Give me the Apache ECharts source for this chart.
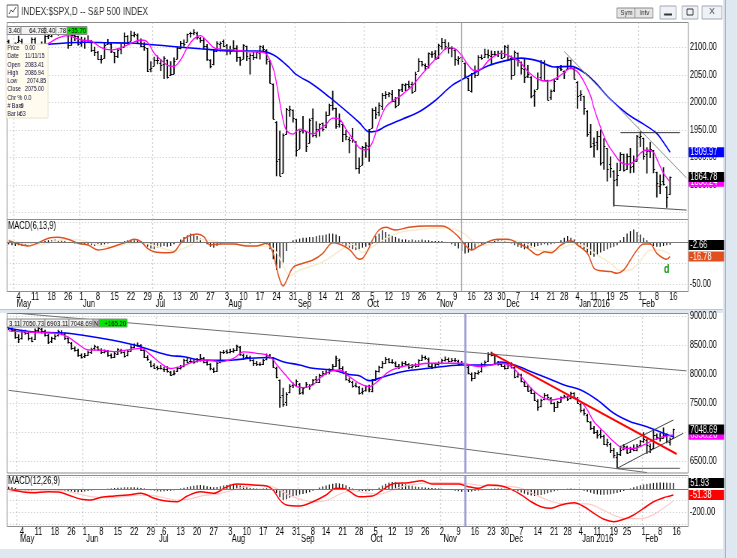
<!DOCTYPE html>
<html><head><meta charset="utf-8">
<script src="https://cdn.jsdelivr.net/npm/echarts@6/dist/echarts.min.js"></script>
<style>html,body{margin:0;padding:0;background:#fff;overflow:hidden;width:737px;height:558px}
#c{width:982.67px;height:558px;transform:scaleX(0.75);transform-origin:0 0}</style>
</head><body><div id="c"></div>
<script>
// ---------- calendar ----------
const holidays = ['2015-05-25','2015-07-03','2015-09-07','2015-11-26','2015-12-25','2016-01-01','2016-01-18','2016-02-15'];
function tradingDays(a, b) {
  const out = []; let t = Date.parse(a + 'T00:00:00Z'); const e = Date.parse(b + 'T00:00:00Z');
  while (t <= e) { const d = new Date(t); const wd = d.getUTCDay(); const s = d.toISOString().slice(0, 10);
    if (wd > 0 && wd < 6 && holidays.indexOf(s) < 0) out.push(s); t += 86400000; }
  return out;
}
const datesTop = tradingDays('2015-04-29', '2016-02-22');
const datesBot = tradingDays('2015-04-28', '2016-02-19');
const lastDayLabel = '2016-02-16';
const cursorDate = '2015-11-11';

// ---------- S&P 500 daily [open, high, low, close] from 2015-04-29 ----------
const spxOHLC = [
[2112.5,2113.6,2097.4,2106.9],[2105.5,2105.5,2077.6,2085.5],[2087.4,2108.4,2087.4,2108.3],[2110.2,2120.9,2110.2,2114.5],[2112.6,2115.2,2088.5,2089.5],
[2091.3,2098.4,2067.9,2080.2],[2079.9,2092.9,2074.9,2088.0],[2092.1,2117.7,2092.1,2116.1],[2115.6,2117.7,2104.6,2105.3],[2102.9,2105.1,2085.6,2099.1],
[2099.6,2110.2,2096.0,2098.5],[2100.4,2121.5,2100.4,2121.1],[2122.1,2123.9,2116.8,2122.7],[2121.3,2131.8,2120.0,2129.2],[2129.5,2133.0,2124.5,2127.8],
[2127.8,2134.7,2122.6,2125.9],[2125.6,2133.6,2124.5,2130.8],[2130.4,2132.2,2126.1,2126.1],[2125.3,2125.3,2099.2,2104.2],[2105.1,2126.2,2105.1,2123.5],
[2122.3,2122.3,2112.9,2120.8],[2120.7,2120.7,2104.9,2107.4],[2108.6,2119.2,2102.5,2111.7],[2110.4,2117.6,2099.1,2109.6],[2110.6,2121.9,2109.6,2114.1],
[2112.4,2112.9,2093.2,2095.8],[2095.1,2100.9,2085.7,2092.8],[2092.3,2093.0,2079.1,2079.3],[2079.1,2085.6,2072.1,2080.2],[2081.1,2108.5,2081.1,2105.2],
[2106.2,2115.0,2106.2,2108.9],[2107.4,2107.4,2091.3,2094.1],[2091.3,2091.3,2072.5,2084.4],[2084.3,2097.4,2082.1,2096.3],[2097.4,2106.8,2088.9,2100.4],
[2101.6,2126.7,2101.6,2121.2],[2121.1,2121.6,2109.5,2110.0],[2112.5,2129.9,2112.5,2122.9],[2123.2,2128.0,2119.9,2124.2],[2123.7,2125.1,2108.6,2108.6],
[2109.1,2116.0,2101.8,2102.3],[2102.6,2108.9,2095.4,2101.5],[2098.6,2098.6,2056.6,2057.6],[2061.2,2074.3,2056.3,2063.1],[2067.0,2082.8,2067.0,2077.4],
[2078.0,2085.1,2071.0,2076.8],[2073.0,2078.6,2058.4,2068.8],[2069.5,2083.7,2044.0,2081.3],[2077.7,2077.7,2044.7,2046.7],[2049.7,2074.3,2049.7,2051.3],
[2052.7,2081.3,2052.7,2076.6],[2080.0,2100.7,2080.0,2099.6],[2099.7,2111.4,2098.2,2108.9],[2109.0,2114.1,2102.5,2107.4],[2110.6,2124.4,2110.6,2124.3],
[2126.8,2128.1,2119.5,2126.6],[2126.9,2132.8,2123.7,2128.3],[2126.0,2128.0,2115.7,2119.2],[2118.2,2118.5,2110.0,2114.2],[2114.2,2116.9,2098.6,2102.2],
[2102.2,2106.0,2077.1,2079.7],[2078.2,2078.2,2063.5,2067.6],[2070.8,2095.6,2069.1,2093.3],[2094.1,2110.6,2094.1,2108.6],[2106.8,2110.5,2094.1,2108.6],
[2111.6,2114.2,2102.1,2103.8],[2104.5,2105.7,2087.3,2098.0],[2097.7,2102.5,2088.6,2093.3],[2095.3,2112.7,2095.3,2099.8],[2100.0,2103.3,2075.5,2083.6],
[2082.6,2082.6,2067.9,2077.6],[2080.1,2105.4,2080.1,2104.2],[2102.7,2102.7,2076.5,2084.1],[2081.1,2089.1,2052.1,2086.1],[2086.2,2092.9,2078.3,2083.4],
[2083.2,2092.5,2080.6,2091.5],[2089.7,2102.9,2079.3,2102.4],[2101.1,2103.5,2094.1,2096.9],[2095.7,2096.2,2070.5,2079.6],[2076.6,2076.6,2035.7,2035.7],
[2034.1,2034.1,1970.9,1970.9],[1965.2,1965.2,1867.0,1893.2],[1898.1,1948.0,1867.1,1867.6],[1872.8,1943.1,1872.8,1940.5],[1942.8,1989.6,1942.8,1987.7],
[1986.1,1993.5,1975.2,1988.9],[1986.7,1986.7,1965.0,1972.2],[1970.1,1970.1,1903.1,1913.9],[1916.5,1948.9,1916.5,1948.9],[1950.8,1975.0,1944.7,1951.1],
[1947.8,1947.8,1911.2,1921.2],[1927.3,1970.4,1927.3,1969.4],[1971.5,1988.6,1937.9,1942.0],[1941.6,1965.3,1937.2,1952.3],[1951.5,1961.1,1939.2,1961.1],
[1963.1,1963.1,1948.3,1953.0],[1955.1,1983.2,1954.3,1978.1],[1978.0,1997.3,1977.9,1995.3],[1995.3,2020.9,1986.7,1990.2],[1989.7,1989.7,1953.5,1958.0],
[1960.8,1979.6,1955.8,1967.0],[1961.4,1961.4,1929.2,1942.7],[1943.2,1949.5,1932.6,1938.8],[1934.8,1937.2,1908.9,1932.2],[1935.9,1952.9,1928.0,1931.3],
[1929.2,1929.2,1879.2,1881.8],[1881.9,1899.5,1871.9,1884.1],[1887.1,1920.5,1887.1,1920.0],[1919.7,1927.2,1900.7,1923.8],[1921.8,1951.4,1893.7,1951.4],
[1954.3,1989.2,1954.3,1987.1],[1986.6,1991.6,1971.3,1979.9],[1982.3,1999.3,1976.4,1995.8],[1994.0,2016.5,1987.5,2013.4],[2013.7,2020.1,2007.6,2014.9],
[2015.7,2018.7,2010.6,2017.5],[2015.0,2022.3,2001.8,2003.7],[2003.7,2009.6,1990.7,1994.2],[1996.5,2024.2,1996.5,2023.9],[2024.4,2033.5,2020.5,2033.1],
[2031.7,2034.5,2022.3,2033.7],[2033.1,2039.1,2026.6,2030.8],[2033.5,2037.0,2017.2,2018.9],[2021.9,2055.2,2021.9,2052.5],[2058.2,2079.7,2058.2,2075.2],
[2075.1,2075.1,2066.5,2071.2],[2068.8,2070.4,2058.8,2065.9],[2066.5,2090.4,2063.1,2090.4],[2088.4,2092.5,2082.6,2089.4],[2090.0,2094.3,2079.3,2079.4],
[2080.8,2106.2,2080.8,2104.1],[2102.6,2116.5,2097.5,2109.8],[2110.6,2114.6,2096.9,2102.3],[2101.7,2108.8,2090.4,2099.9],[2098.6,2101.9,2083.7,2099.2],
[2096.6,2096.6,2068.2,2078.6],[2077.2,2083.7,2069.9,2081.7],[2083.4,2086.9,2074.9,2075.0],[2072.3,2072.3,2045.7,2046.0],[2044.6,2044.6,2022.0,2023.0],
[2022.1,2053.2,2019.4,2053.2],[2053.7,2066.7,2045.9,2050.4],[2051.0,2085.3,2051.0,2083.6],[2083.7,2086.7,2078.8,2081.2],[2082.8,2097.1,2082.8,2089.2],
[2089.4,2095.6,2081.4,2086.6],[2084.4,2094.1,2070.3,2089.1],[2089.3,2093.0,2086.3,2088.9],[2088.8,2093.3,2084.1,2090.1],[2090.9,2093.8,2080.4,2080.4],
[2082.9,2103.4,2082.9,2102.6],[2101.7,2104.3,2077.1,2079.5],[2080.7,2085.0,2042.4,2049.6],[2051.2,2093.8,2051.2,2091.7],[2090.4,2090.4,2066.8,2077.1],
[2073.4,2073.9,2052.3,2063.6],[2061.2,2080.3,2036.5,2047.6],[2047.9,2067.7,2045.7,2052.2],[2047.3,2047.3,2008.8,2012.4],[2013.4,2022.9,1993.3,2021.9],
[2025.6,2053.9,2025.6,2043.4],[2046.5,2076.7,2042.4,2073.1],[2073.8,2076.4,2041.7,2041.9],[2040.8,2040.8,2005.3,2005.6],[2010.3,2022.9,2005.9,2021.2],
[2023.2,2042.7,2020.5,2039.0],[2042.2,2064.7,2042.2,2064.3],[2063.5,2067.4,2058.7,2061.0],[2057.8,2057.8,2044.2,2056.5],[2060.5,2081.6,2060.5,2078.4],
[2077.3,2077.3,2061.9,2063.4],[2060.6,2062.5,2043.6,2043.9],[2038.2,2038.2,1989.7,2012.7],[2013.8,2021.9,2004.2,2016.7],[2011.7,2011.7,1979.1,1990.3],
[1985.3,1985.3,1938.8,1943.1],[1946.0,1960.4,1918.5,1922.0],[1926.1,1935.7,1901.1,1923.7],[1927.8,1947.4,1914.4,1938.7],[1940.3,1950.3,1886.5,1890.3],
[1891.7,1934.5,1878.9,1921.8],[1916.7,1916.7,1857.8,1880.3],[1888.7,1901.4,1864.6,1881.3],[1876.2,1876.2,1812.3,1859.3],[1861.5,1889.9,1848.9,1869.0],
[1877.4,1908.9,1877.4,1906.9],[1906.3,1906.3,1875.9,1877.1],[1878.8,1906.7,1878.8,1903.6],[1902.5,1916.8,1872.7,1883.0],[1885.2,1902.9,1873.7,1893.4],
[1894.0,1940.2,1894.0,1940.2],[1936.9,1947.2,1920.3,1939.4],[1935.3,1935.3,1897.3,1903.0],[1907.1,1918.0,1872.2,1912.5],[1911.7,1927.4,1900.5,1915.5],
[1913.1,1913.1,1872.7,1880.1],[1873.3,1873.3,1828.5,1853.4],[1848.5,1868.3,1834.9,1852.2],[1857.1,1881.6,1850.3,1851.9],[1847.0,1847.0,1810.1,1829.1],
[1833.4,1864.78,1833.4,1864.78]
];
// moving averages: [bar index, value]
const spxMaFast = [[0,2098],[3,2100],[6,2097],[9,2103],[12,2108],[15,2118],[18,2122],[20,2118],[22,2114],[25,2112],[28,2100],[31,2096],[34,2100],[37,2108],[40,2114],[42,2110],[44,2090],[46,2078],[48,2068],[50,2066],[52,2078],[54,2100],[56,2116],[58,2122],[60,2112],[62,2100],[64,2097],[68,2096],[72,2093],[76,2092],[78,2088],[80,2062],[81,2035],[82,2000],[83,1968],[84,1950],[86,1943],[88,1952],[90,1948],[92,1943],[94,1951],[96,1961],[98,1972],[100,1970],[102,1952],[104,1935],[106,1918],[108,1914],[110,1928],[112,1965],[114,1992],[116,2003],[118,2010],[120,2020],[122,2030],[124,2045],[127,2066],[130,2085],[133,2100],[135,2098],[137,2086],[139,2068],[141,2058],[143,2062],[145,2076],[147,2085],[149,2090],[151,2086],[153,2080],[155,2071],[157,2057],[160,2043],[163,2039],[166,2046],[169,2060],[170,2063],[172,2056],[174,2038],[176,2012],[177,1990],[179,1955],[181,1926],[183,1908],[185,1892],[187,1888],[189,1892],[191,1908],[193,1914],[195,1910],[196,1898],[198,1872],[200,1856.24]];
const spxMaSlow = [[0,2098],[6,2103],[12,2106],[18,2109],[23,2110],[30,2109],[38,2108],[48,2103],[58,2098],[68,2094],[75,2094],[78,2092],[80,2087],[82,2079],[85,2063],[87,2051],[92,2033],[97,2010],[102,1985],[106,1964],[109,1947],[111,1948],[114,1957],[119,1970],[124,1983],[129,2004],[134,2031],[139,2048],[145,2067],[150,2076],[155,2081],[160,2076],[165,2065],[170,2066],[174,2055],[177,2039],[182,2006],[187,1980],[192,1961],[196,1944],[198,1928],[200,1909.97]];
// MACD(6,13,9)
const spxMacd = [[0,2.4],[3,-1.6],[6,-4],[9,0],[12,5.3],[15,6.5],[18,4.1],[21,-0.7],[24,-2.8],[27,-8.8],[30,-6.8],[33,-2.8],[36,1.2],[38,4.1],[40,1.2],[42,-6.8],[44,-10.9],[48,-12.1],[50,-10.9],[52,-0.7],[54,7.3],[57,10.5],[59,7.3],[61,-2.8],[64,-1.6],[68,-1.6],[72,-4],[75,-4],[78,-0.7],[80,-12.8],[81,-30],[82,-45],[83,-52.4],[84,-46],[86,-30],[89,-25],[92,-21],[95,-12.8],[98,0],[100,-1.6],[103,-8],[106,-20],[107,-19],[109,-6],[110,3.3],[112,15.4],[114,18.6],[117,15.4],[121,18.6],[126,20.2],[131,20.2],[133,17.4],[136,7.3],[138,-2.8],[140,-8.8],[142,-4.8],[145,1.2],[148,4.1],[151,4.1],[154,-0.7],[157,-6.8],[160,-15],[162,-10.9],[164,-12.1],[167,-2.8],[170,2.4],[172,-2.8],[175,-12.8],[177,-31],[179,-34],[182,-35],[184,-37],[186,-33],[188,-21],[190,-8.8],[192,-1.6],[194,-1.6],[196,-12.8],[199,-20],[200,-16.78]];
const spxSignal = [[0,4],[5,-1],[10,-2],[15,3],[20,4],[25,0],[30,-5],[35,-2],[40,0],[45,-5],[50,-10],[55,-3],[58,4],[62,2],[66,-1],[70,-2],[75,-4],[79,-5],[81,-12],[83,-28],[85,-40],[88,-33],[92,-28],[96,-21],[100,-10],[104,-2],[107,-12],[110,-5],[114,5],[118,12],[122,15],[127,17],[132,18],[135,16],[138,10],[141,0],[144,-3],[148,1],[152,3],[156,0],[160,-9],[164,-10],[167,-7],[171,-2],[174,-4],[178,-15],[182,-25],[185,-34],[188,-33],[191,-22],[194,-9],[197,-9],[200,-14.12]];
const spxHist = [-2,-3,-4,-3,-4,-3,-2,-1, 0,1,1,2, 3,3,4,3,3,2, 1,0,-1,-1,-2, -2,-3,-3,-4,-3,-3,-2, -1,0,0,1,1, 2,3,4,3,3,2,
 -2,-5,-7,-8,-6,-5,-4,-5,-4,-2, 1,4,7,9,11,10,8,5, 1,-2,-5,-6,-4, -2,-1,0,0,-1,-1,0,1,0,-1,0,0,1,0, -2,-8,-20,-33,-31,-24,-10,1,
 3,4,5,6,6,7,7,8,9,9,10,11,11,10,8, -1,-4,-6,-8,-9,-8,-6,-5,-3,-1, 8,11,15,13,10,8,7, 5,4,4,3,4,3,3,4,3,3,2,2,2, 2,1,0,
 -2,-4,-7,-10,-13,-12,-9,-6,-3, -2,-1,0, 1,2,3,3,2,1, -1,-3,-5,-6,-8,-7,-6,-5,-4,-3, -2,-3,-2,-1,0, 3,6,8,6,4,
 -2,-5,-8,-12,-15,-17,-15,-12,-10,-8,-6,-5,-3, 3,7,11,14,16,13,10,6,3, -2,-4,-5,-5,-4,-3,-2.66];
const spxTrend = [[[168,2093],[205,1863]], [[185,1945.5],[203,1945.5]], [[183,1813.3],[205,1804.7]]];

// ---------- second index daily [open, high, low, close] from 2015-04-28 ----------
const tranOHLC = [
[8820,8840,8770,8790],[8785,8800,8740,8760],[8755,8770,8620,8640],[8650,8680,8550,8600],[8620,8760,8610,8740],[8735,8760,8690,8720],[8715,8730,8590,8620],[8620,8640,8560,8580],
[8600,8780,8600,8760],[8765,8810,8740,8790],[8780,8790,8710,8740],[8745,8760,8660,8680],[8670,8690,8530,8560],[8575,8640,8550,8620],[8625,8680,8600,8660],[8670,8760,8660,8740],
[8735,8750,8680,8700],[8700,8710,8600,8620],[8620,8640,8540,8560],[8540,8550,8430,8450],[8455,8470,8400,8420],[8420,8430,8310,8330],[8335,8350,8280,8300],[8310,8360,8290,8340],
[8340,8400,8330,8380],[8380,8450,8360,8440],[8445,8500,8420,8480],[8470,8480,8410,8430],[8425,8440,8360,8380],[8385,8420,8370,8400],[8400,8410,8310,8330],[8330,8350,8280,8300],
[8300,8380,8290,8360],[8350,8440,8340,8430],[8420,8430,8360,8380],[8380,8390,8300,8320],[8330,8410,8320,8400],[8410,8490,8400,8470],[8475,8520,8460,8500],[8500,8540,8480,8510],
[8505,8510,8410,8420],[8420,8430,8290,8300],[8300,8320,8240,8260],[8220,8230,8130,8150],[8160,8180,8100,8110],[8120,8140,8080,8100],[8105,8150,8090,8110],[8090,8120,8050,8090],
[8095,8130,8040,8060],[8040,8050,7980,7990],[8000,8060,7990,8030],[8060,8120,8050,8100],[8110,8150,8090,8130],[8140,8260,8130,8250],[8245,8270,8200,8220],[8230,8260,8200,8230],
[8235,8250,8190,8220],[8225,8270,8210,8240],[8240,8340,8230,8280],[8275,8290,8200,8220],[8215,8230,8160,8180],[8170,8180,8080,8100],[8095,8110,8030,8050],[8060,8210,8050,8200],
[8210,8390,8200,8380],[8380,8410,8360,8390],[8395,8420,8360,8380],[8385,8430,8370,8400],[8400,8440,8380,8420],[8425,8500,8410,8480],[8470,8480,8330,8350],[8340,8350,8260,8280],
[8290,8330,8280,8300],[8290,8310,8230,8250],[8240,8250,8150,8200],[8200,8220,8150,8170],[8170,8200,8150,8180],[8185,8260,8170,8250],[8255,8350,8250,8330],[8320,8340,8280,8300],
[8280,8290,8120,8130],[8110,8120,7940,7950],[7900,7900,7430,7600],[7640,7760,7450,7480],[7520,7680,7460,7660],[7700,7820,7680,7800],[7810,7850,7770,7830],[7820,7900,7800,7880],
[7830,7840,7660,7680],[7690,7770,7660,7760],[7780,7860,7770,7830],[7800,7820,7740,7790],[7830,7910,7820,7900],[7920,7960,7860,7870],[7870,8000,7860,7990],[7990,8050,7970,8030],
[8030,8060,8000,8040],[8040,8090,8010,8080],[8085,8170,8070,8150],[8150,8310,8140,8280],[8250,8260,8090,8100],[8110,8130,8040,8060],[8040,8050,7900,7920],[7910,7930,7860,7880],
[7870,7880,7780,7800],[7810,7850,7780,7800],[7780,7790,7660,7680],[7690,7760,7660,7720],[7730,7800,7710,7790],[7800,7810,7700,7740],[7720,7910,7700,7900],[7910,8060,7900,8050],
[8050,8140,8040,8120],[8130,8220,8110,8200],[8200,8290,8190,8260],[8260,8270,8200,8220],[8220,8250,8190,8210],[8200,8210,8130,8150],[8150,8170,8100,8130],[8140,8210,8130,8200],
[8200,8220,8160,8180],[8175,8180,8100,8120],[8120,8170,8110,8150],[8155,8180,8120,8140],[8150,8250,8140,8240],[8250,8330,8240,8300],[8300,8310,8260,8280],[8270,8280,8130,8150],
[8150,8170,8100,8120],[8130,8190,8120,8170],[8170,8210,8160,8190],[8190,8260,8180,8240],[8240,8300,8230,8270],[8270,8280,8210,8230],[8230,8270,8220,8250],[8250,8270,8220,8240],
[8230,8240,8160,8180],[8180,8220,8170,8200],[8200,8210,8130,8140],[8130,8140,8010,8020],[8010,8020,7890,7930],[7940,8030,7930,8020],[8025,8060,8000,8040],[8050,8190,8040,8180],
[8180,8230,8160,8220],[8230,8370,8220,8350],[8350,8380,8320,8340],[8330,8340,8190,8200],[8200,8220,8160,8170],[8170,8180,8140,8150],[8150,8160,8090,8100],[8110,8200,8100,8190],
[8190,8200,8110,8120],[8120,8130,7940,7960],[7970,8020,7950,8000],[7990,8000,7870,7880],[7870,7880,7790,7800],[7800,7810,7710,7720],[7730,7760,7670,7680],[7670,7680,7550,7560],
[7540,7560,7380,7430],[7450,7570,7440,7560],[7570,7670,7560,7650],[7640,7650,7580,7600],[7590,7600,7490,7500],[7500,7510,7360,7430],[7440,7530,7430,7520],[7530,7610,7520,7600],
[7600,7640,7590,7620],[7610,7620,7550,7580],[7590,7690,7580,7680],[7670,7680,7590,7600],[7590,7600,7500,7510],[7480,7490,7350,7390],[7390,7400,7300,7330],[7300,7310,7180,7200],
[7170,7180,7050,7080],[7080,7100,6980,7000],[7010,7030,6900,6960],[6970,7040,6900,6930],[6940,6950,6790,6800],[6790,6880,6760,6840],[6800,6810,6650,6700],[6700,6720,6560,6600],
[6580,6650,6390,6620],[6630,6760,6600,6700],[6720,6790,6700,6760],[6750,6760,6640,6650],[6660,6740,6650,6720],[6720,6780,6680,6700],[6700,6790,6680,6760],[6780,6860,6760,6850],
[6850,6990,6830,6880],[6870,6880,6640,6780],[6770,6800,6650,6720],[6730,7040,6720,6960],[6950,6970,6880,6920],[6900,6980,6850,6900],[6910,7075,6900,6960],[6950,6970,6820,6850],
[6840,6900,6780,6883.49],[6903.11,7050.73,6903.11,7048.69]
];
const tranMaFast = [[0,8750],[5,8730],[10,8717],[15,8700],[18,8640],[21,8520],[24,8420],[28,8415],[32,8390],[36,8420],[40,8448],[43,8330],[46,8190],[49,8100],[52,8131],[56,8217],[60,8246],[64,8217],[68,8276],[71,8385],[75,8362],[78,8333],[80,8250],[81,8170],[84,7970],[87,7790],[89,7770],[92,7815],[94,7931],[97,8045],[100,8074],[103,7960],[106,7845],[109,7786],[112,7900],[115,8045],[119,8131],[123,8160],[127,8190],[133,8190],[137,8190],[142,8131],[146,8160],[149,8190],[152,8131],[155,7959],[158,7758],[161,7614],[164,7557],[167,7586],[170,7614],[173,7528],[175,7384],[177,7183],[180,7010],[183,6838],[186,6724],[189,6724],[192,6781],[195,6867],[198,6924],[201,6956.2]];
const tranMaSlow = [[0,8793],[7,8734],[18,8707],[28,8621],[38,8505],[48,8333],[53,8303],[58,8246],[63,8240],[68,8246],[73,8276],[79,8290],[83,8217],[88,8160],[92,8103],[98,8074],[100,8045],[103,7995],[106,7975],[109,7890],[113,7950],[119,8045],[127,8103],[137,8160],[143,8160],[146,8165],[149,8210],[153,8160],[158,8045],[163,7931],[168,7815],[173,7729],[178,7557],[183,7328],[188,7183],[193,7097],[198,6983],[201,6924]];
// MACD(12,26,9)
const tranMacd = [[0,-3],[4,-23],[7,-32],[12,-23],[15,-25],[18,-51],[22,-88],[25,-94],[28,-71],[32,-60],[36,-51],[40,-37],[44,-80],[47,-100],[51,-109],[54,-60],[58,-23],[62,-37],[66,20],[69,43],[74,34],[78,26],[80,-9],[82,-94],[84,-137],[88,-146],[92,-109],[96,-51],[99,6],[102,-3],[106,-66],[110,-60],[113,-9],[116,43],[121,54],[125,71],[128,43],[132,43],[136,43],[139,20],[142,6],[145,34],[149,26],[152,-3],[155,-51],[158,-109],[161,-152],[164,-166],[167,-137],[171,-118],[174,-152],[177,-209],[180,-260],[183,-281],[186,-260],[189,-223],[192,-166],[195,-109],[198,-75],[200,-60],[201,-51.38]];
const tranSignal = [[0,-25],[4,-15],[8,-18],[12,-15],[16,-15],[20,-35],[25,-65],[29,-75],[34,-68],[39,-52],[43,-55],[47,-75],[51,-95],[55,-85],[59,-55],[63,-45],[67,-15],[70,10],[75,30],[79,25],[82,-10],[85,-55],[89,-95],[93,-110],[97,-90],[100,-45],[104,-15],[108,-35],[112,-45],[115,-20],[119,20],[124,45],[129,55],[134,55],[139,45],[143,30],[147,25],[151,22],[155,5],[159,-45],[163,-95],[167,-125],[171,-128],[175,-128],[179,-170],[183,-225],[187,-255],[191,-255],[195,-220],[198,-165],[201,-103.3]];
const tranHist = [20,15,8, -5,-10,-15,-18,-15,-10,-8,-10,-12,-10,-8,-10,-12,-15,-18,-20,-22,-25,-28,-25,-22,-18,-12,-8,
 -5,-2,0,2,4, 8,10,12,14,15,16,15,12,8,4, -4,-10,-15,-20,-22,-20,-18,-15,-10, -4,4,10,18,24,28,32,34,30,24,18,14,
 18,24,30,35,38,40,36,30,24,16, 10,6,4,2,4,6,2,-10, -35,-70,-94,-88,-75,-62,-55,-48, -42,-36,-28,
 -15,0,12,22,30,38,45,50,48,42,32, 18,4,-6,-14,-18,-20,-18, -12,-2, 12,30,45,55,60,58,52,46,40,34,28,22,18,14,12,
 10,8,6,4,2,0,-4, -10,-15,-20,-24,-26,-25,-22,-18,-14,-10,-6, -2,2,4,5,4,2,0,-4,
 -10,-20,-30,-40,-50,-56,-60,-58,-52,-45,-36,-28, -20,-12,-6,-2,2,4,2,-2,-8,
 -16,-24,-32,-40,-46,-50,-50,-48,-45,-40,-34,-26,-18,-8, 4,14,24,32,38,44,48,52,54,55,55,54,53,51.93];
const tranTrend = [[[0,9065],[205,8059]], [[0,7723],[193,6306]], [[184,6379],[203,6379]], [[184,6379],[204,6983]], [[185,6752],[201,7212]]];
const tranRedTrend = [[146,8365],[202,6626]];

// ---------- helpers ----------
const SX = 0.75;                // the page is drawn wide and squeezed horizontally like the source screenshot
const X = (v) => v / SX;
const FF = "'Liberation Sans',Arial,sans-serif";
const MON = ['Jan','Feb','Mar','Apr','May','Jun','Jul','Aug','Sep','Oct','Nov','Dec'];
function weekStart(d, i) { if (i === 0 || d[i] > lastDayLabel) return false;
  return new Date(d[i] + 'T00:00:00Z').getUTCDay() <= new Date(d[i-1] + 'T00:00:00Z').getUTCDay(); }
function monthStart(d, i) { return i > 0 && d[i].slice(5, 7) !== d[i-1].slice(5, 7); }
function monthName(v) { const m = +v.slice(5, 7) - 1; return m === 0 ? MON[0] + ' ' + v.slice(0, 4) : MON[m]; }
const dotH = {color: '#a9a9a9', type: [1, 3], width: 1};
const dotV = {color: '#a9a9a9', type: [1, 3], width: X(1)};

function priceX(grid, dates) {
  return {type: 'category', gridIndex: grid, data: dates, boundaryGap: true, axisLine: {show: false}, axisTick: {show: false},
    axisLabel: {show: false}, splitLine: {show: true, interval: (i) => monthStart(dates, i), lineStyle: dotV}};
}
function dayX(grid, dates) {
  return {type: 'category', gridIndex: grid, data: dates, boundaryGap: true, axisLine: {show: false}, axisTick: {show: false},
    splitLine: {show: true, interval: (i) => monthStart(dates, i), lineStyle: dotV},
    axisLabel: {interval: (i) => weekStart(dates, i), formatter: (v) => String(+v.slice(8, 10)), margin: 1,
      fontSize: 10, color: '#000', fontFamily: FF}};
}
function monX(grid, dates, off) {
  return {type: 'category', gridIndex: grid, data: dates, boundaryGap: true, position: 'bottom', offset: off,
    axisLine: {show: false}, axisTick: {show: false}, splitLine: {show: false},
    axisLabel: {interval: (i) => monthStart(dates, i), formatter: monthName, align: 'left', margin: 1,
      padding: [0, 0, 0, 2], fontSize: 10, color: '#000', fontFamily: FF}};
}
function mainY(grid, min, max, ticks, labels) {
  return {type: 'value', gridIndex: grid, position: 'right', min: min, max: max,
    axisLine: {show: false}, axisTick: {show: false, customValues: ticks}, splitLine: {show: true, lineStyle: dotH},
    axisLabel: {customValues: labels, formatter: (v) => v.toFixed(2), margin: X(1.5), fontSize: 10, color: '#000', fontFamily: FF}};
}
function tagY(grid, min, max, value, bg) {
  return {type: 'value', gridIndex: grid, position: 'right', min: min, max: max,
    axisLine: {show: false}, axisTick: {show: false}, splitLine: {show: false},
    axisLabel: {customValues: [value], margin: X(0.5), formatter: () => '{t|' + value.toFixed(2) + '}',
      rich: {t: {backgroundColor: bg, color: '#fff', fontSize: 10, fontFamily: FF, padding: [1, 2, 0, 2], width: 43, height: 9, lineHeight: 10}}}};
}
function ohlcRender(params, api) {
  const i = api.value(0);
  const o = api.coord([i, api.value(1)]), h = api.coord([i, api.value(2)]);
  const l = api.coord([i, api.value(3)]), c = api.coord([i, api.value(4)]);
  const w = api.size([1, 0])[0] * 0.45;
  const x = h[0], yo = Math.round(o[1]) + 0.5, yc = Math.round(c[1]) + 0.5;
  const sv = {stroke: '#000', lineWidth: X(1.3)}, sh = {stroke: '#000', lineWidth: 1.2};
  return {type: 'group', children: [
    {type: 'line', shape: {x1: x, y1: h[1] - 0.5, x2: x, y2: l[1] + 0.5}, style: sv},
    {type: 'line', shape: {x1: x - w, y1: yo, x2: x, y2: yo}, style: sh},
    {type: 'line', shape: {x1: x, y1: yc, x2: x + w, y2: yc}, style: sh}]};
}
function ohlc(xi, yi, rows) {
  return {type: 'custom', xAxisIndex: xi, yAxisIndex: yi, renderItem: ohlcRender, clip: true, z: 2,
    data: rows.map((r, i) => [i, r[0], r[1], r[2], r[3]]), encode: {x: 0, y: [1, 2, 3, 4]}};
}
function line(xi, yi, data, color, width, extra) {
  return Object.assign({type: 'line', xAxisIndex: xi, yAxisIndex: yi, data: data, showSymbol: false, symbol: 'none',
    smooth: 0.35, z: 3, lineStyle: {color: color, width: width}, silent: true}, extra || {});
}
function trend(xi, yi, seg, color, width) {
  return {type: 'line', xAxisIndex: xi, yAxisIndex: yi, data: seg, symbol: 'none', z: 4, silent: true,
    lineStyle: {color: color, width: width}};
}
function hist(xi, yi, data, cursorColor, cursorWidth) {
  return {type: 'bar', xAxisIndex: xi, yAxisIndex: yi, data: data, barWidth: X(1), z: 2, silent: true,
    itemStyle: {color: '#000'},
    markLine: {silent: true, symbol: 'none', label: {show: false},
      data: [{yAxis: 0, lineStyle: {color: '#7a7a7a', type: 'solid', width: 1}},
             {xAxis: cursorDate, lineStyle: {color: cursorColor, type: 'solid', width: X(cursorWidth)}}]}};
}
const cursorMark = (color, width) => ({markLine: {silent: true, symbol: 'none', label: {show: false},
  data: [{xAxis: cursorDate, lineStyle: {color: color, type: 'solid', width: X(width)}}]}});

// ---------- chrome (window frame, headers, info box) ----------
function box(x, y, w, h, fill, text) {
  const els = [{type: 'rect', shape: {x: X(x), y: y, width: X(w), height: h}, style: {fill: fill, stroke: '#8a8a8a', lineWidth: 1}, z: 60}];
  if (text) els.push({type: 'text', x: X(x + w - 0.8), y: y + h / 2 + 0.5, z: 61,
    style: {text: text, fill: '#000', font: '8px ' + FF, align: 'right', verticalAlign: 'middle'}});
  return els;
}
function txt(x, y, s, font, color, align) {
  return {type: 'text', x: X(x), y: y, z: 61, style: {text: s, fill: color || '#000', font: font, align: align || 'left', verticalAlign: 'middle'}};
}
function rect(x, y, w, h, fill, stroke, z) {
  return {type: 'rect', shape: {x: X(x), y: y, width: X(w), height: h}, style: {fill: fill, stroke: stroke || null, lineWidth: 1}, z: z == null ? 60 : z};
}
const infoLabels = ['Price', 'Date', 'Open', 'High', 'Low', 'Close', 'Chr %', '# Bars', 'Bar Ix'];
const infoValues = ['0.00', '11/11/15', '2083.41', '2086.94', '2074.85', '2075.00', '0.0', '-9', '-63'];
const infoValueX = [25, 25, 25, 25, 27, 25, 24, 19, 18];
const graphic = [
  rect(0, 0, 737, 558, '#dfe7f1', null, -20),
  rect(0, 0, 723, 309, '#fff', null, -19),
  rect(0, 313, 723, 236, '#fff', null, -19),
  {type: 'line', shape: {x1: X(725.5), y1: 0, x2: X(725.5), y2: 558}, style: {stroke: '#9fb0c6', lineWidth: X(1)}, z: -18},
  {type: 'line', shape: {x1: 0, y1: 309.5, x2: X(723), y2: 309.5}, style: {stroke: '#b9c6d6', lineWidth: 1}, z: -18},
  // title bar
  rect(7, 5, 11, 12, '#fff', '#555'),
  {type: 'polyline', shape: {points: [[X(9), 14], [X(11), 10], [X(13), 12], [X(16), 7]]}, style: {stroke: '#333', lineWidth: 1, fill: null}, z: 61},
  txt(21, 12, 'INDEX:$SPX,D -- S&P 500 INDEX', '11px ' + FF, '#333'),
  rect(617, 8, 18, 10, '#e4e4e4', '#8a8a8a'), txt(626.5, 13, 'Sym', '8px ' + FF, '#333', 'center'),
  rect(635, 8, 18, 10, '#e4e4e4', '#8a8a8a'), txt(644.5, 13, 'Intv', '8px ' + FF, '#333', 'center'),
  rect(660, 6, 16, 13, '#eef1f5', '#a0a8b4'),
  {type: 'line', shape: {x1: X(664), y1: 14.5, x2: X(672), y2: 14.5}, style: {stroke: '#333', lineWidth: 2}, z: 61},
  rect(682, 6, 16, 13, '#eef1f5', '#a0a8b4'),
  rect(687, 9, 6, 6, 'none', '#333', 61),
  rect(702, 6, 20, 13, '#eef1f5', '#a0a8b4'),
  txt(712, 12.5, '✕', '11px DejaVu Sans', '#666', 'center'),
  // indicator titles
  txt(8, 226, 'MACD(6,13,9)', '10px ' + FF),
  txt(8, 481, 'MACD(12,26,9)', '10px ' + FF),
  // info box
  rect(6, 44, 42, 74, '#fffbee', '#e8e2cc')
];
infoLabels.forEach((t, k) => {
  graphic.push(txt(7.5, 48 + k * 8.3, t, '7px ' + FF, '#10103a'));
  graphic.push(txt(infoValueX[k], 48 + k * 8.3, infoValues[k], '7px ' + FF, '#10103a'));
});
[].concat(
  box(7, 26.5, 14, 8, '#f2f2f2', '3.40'), box(21, 26.5, 24, 8, '#f2f2f2', '64.78'), box(45, 26.5, 11, 8, '#f2f2f2', '3.40'),
  box(56, 26.5, 11, 8, '#f2f2f2', '.78'), box(67, 26.5, 20, 8, '#00e600', '+35.70'),
  box(7, 319, 14, 8, '#f2f2f2', '3.11'), box(21, 319, 24, 8, '#f2f2f2', '7050.73'), box(45, 319, 24, 8, '#f2f2f2', '6903.11'),
  box(69, 319, 24, 8, '#f2f2f2', '7048.69'), box(93, 319, 6, 8, '#c6c6c6', 'N'), box(99, 319, 28, 8, '#00e600', '+165.20')
).forEach(e => graphic.push(e));

// ---------- option ----------
const gridStyle = {show: true, borderColor: '#8c8c8c', borderWidth: 1, backgroundColor: '#fff', left: X(7), right: X(49)};
const TOP = [1787.6, 2145.8], TMACD = [-59.1, 28.1], BOT = [6298, 9048], BMACD = [-321.9, 115.9];
const option = {
  animation: false,
  graphic: graphic,
  grid: [
    Object.assign({top: 22.5, height: 197}, gridStyle),
    Object.assign({top: 219.5, height: 72}, gridStyle),
    Object.assign({top: 313.5, height: 159.5}, gridStyle),
    Object.assign({top: 475.5, height: 51}, gridStyle)
  ],
  xAxis: [priceX(0, datesTop), dayX(1, datesTop), monX(1, datesTop, 7), priceX(2, datesBot), dayX(3, datesBot), monX(3, datesBot, 7)],
  yAxis: [
    mainY(0, TOP[0], TOP[1], [1800, 1850, 1900, 1950, 2000, 2050, 2100], [1850, 1900, 1950, 2000, 2050, 2100]),
    mainY(1, TMACD[0], TMACD[1], [-50, -25, 25], [-50]),
    mainY(2, BOT[0], BOT[1], [6500, 7000, 7500, 8000, 8500, 9000], [6500, 7000, 7500, 8000, 8500, 9000]),
    mainY(3, BMACD[0], BMACD[1], [-300, -200, -100, 100], [-200]),
    tagY(0, TOP[0], TOP[1], 1909.97, '#0000ff'),
    tagY(0, TOP[0], TOP[1], 1856.24, '#ff00ff'),
    tagY(0, TOP[0], TOP[1], 1864.78, '#000'),
    tagY(1, TMACD[0], TMACD[1], -16.78, '#e0501e'),
    tagY(1, TMACD[0], TMACD[1], -2.66, '#000'),
    tagY(2, BOT[0], BOT[1], 6956.20, '#ff00ff'),
    tagY(2, BOT[0], BOT[1], 7048.69, '#000'),
    tagY(3, BMACD[0], BMACD[1], -51.38, '#ff0000'),
    tagY(3, BMACD[0], BMACD[1], 51.93, '#000')
  ],
  series: [
    ohlc(0, 0, spxOHLC),
    line(0, 0, spxMaSlow, '#0000ff', 1.6, cursorMark('#a0a0a0', 1)),
    line(0, 0, spxMaFast, '#ff00ff', 1.3),
    trend(0, 0, spxTrend[0], '#8a8a8a', 1), trend(0, 0, spxTrend[1], '#333', 1), trend(0, 0, spxTrend[2], '#555', 1),
    hist(1, 1, spxHist, '#a0a0a0', 1),
    line(1, 1, spxSignal, '#f8eccf', 1.5),
    line(1, 1, spxMacd, '#e0501e', 1.5, {markPoint: {silent: true, symbol: 'circle', symbolSize: 1, itemStyle: {color: 'rgba(0,0,0,0)'},
      label: {show: true, formatter: 'd', color: '#149014', fontWeight: 'bold', fontSize: 12, fontFamily: FF},
      data: [{coord: [datesTop[199], -33]}]}}),
    ohlc(3, 2, tranOHLC),
    line(3, 2, tranMaSlow, '#0000ff', 1.6, cursorMark('#9d9dd6', 2)),
    line(3, 2, tranMaFast, '#ff00ff', 1.3),
    trend(3, 2, tranTrend[0], '#6f6f6f', 1), trend(3, 2, tranTrend[1], '#6f6f6f', 1), trend(3, 2, tranTrend[2], '#555', 1),
    trend(3, 2, tranTrend[3], '#444', 1), trend(3, 2, tranTrend[4], '#444', 1),
    trend(3, 2, tranRedTrend, '#ff0000', 2),
    hist(4, 3, tranHist, '#9d9dd6', 2),
    line(4, 3, tranSignal, '#ffc9c9', 1.2),
    line(4, 3, tranMacd, '#ff0000', 1.5)
  ]
};
const chart = echarts.init(document.getElementById('c'), null, {renderer: 'canvas'});
chart.setOption(option);
</script></body></html>
